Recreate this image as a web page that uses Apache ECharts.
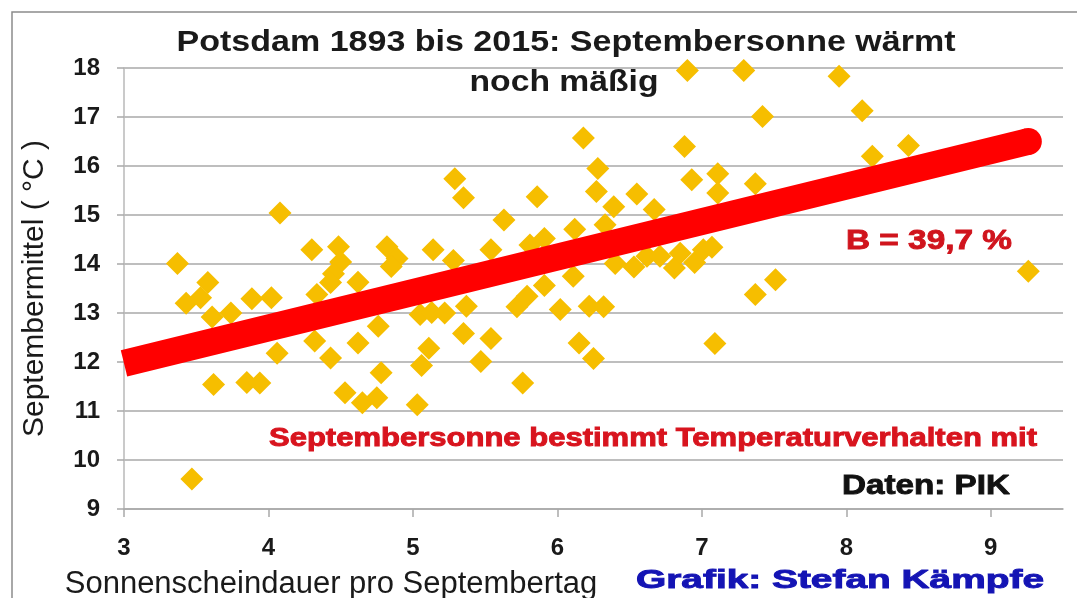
<!DOCTYPE html>
<html>
<head>
<meta charset="utf-8">
<title>Potsdam Septembersonne</title>
<script src="https://cdn.jsdelivr.net/npm/echarts@6/dist/echarts.min.js"></script>
<style>
html, body { margin: 0; padding: 0; background: #fff; }
#main { width: 1077px; height: 598px; }
</style>
</head>
<body>
<div id="main"></div>
<script>
// Sonnenscheindauer pro Septembertag (h) und Septembermittel (°C)
var sunHours = [3.37, 3.43, 3.53, 3.58, 3.61, 3.74, 3.885, 4.02, 3.47, 3.62,
    3.85, 3.94, 4.08, 4.06, 4.30, 4.485, 4.50, 4.45, 4.43, 4.335,
    4.62, 4.32, 4.43, 4.62, 4.76, 4.78, 4.53, 4.65, 4.75, 4.82,
    4.89, 4.85, 5.03, 5.06, 5.11, 5.05, 5.13, 5.22, 5.37, 5.35,
    5.54, 5.47, 5.76, 5.14, 5.28, 5.29, 5.35, 5.54, 5.63, 5.86,
    5.81, 5.91, 6.12, 6.33, 6.11, 5.72, 5.79, 5.91, 6.02, 6.22,
    6.32, 6.15, 6.25, 6.18, 6.28, 6.27, 6.39, 6.55, 6.67, 6.90,
    7.29, 7.95, 7.42, 8.11, 6.88, 8.43, 8.18, 6.93, 7.11, 7.11,
    7.37, 9.26, 7.51, 7.37, 7.09, 6.40, 6.53, 6.62, 6.71, 6.81,
    6.95, 7.01, 7.07, 6.85]
var meanTemp = [14.01, 13.20, 13.31, 13.62, 12.92, 13.00, 13.29, 13.31, 9.61, 11.54,
    11.58, 11.57, 15.04, 12.18, 14.29, 14.35, 14.04, 13.80, 13.62, 13.38,
    13.63, 12.43, 12.08, 12.39, 12.73, 11.78, 11.37, 11.17, 11.27, 14.35,
    14.11, 13.95, 11.13, 11.93, 12.28, 12.97, 13.01, 13.00, 13.14, 12.58,
    12.48, 12.01, 11.57, 14.29, 14.07, 15.74, 15.35, 14.29, 14.90, 15.37,
    14.39, 14.52, 14.71, 14.80, 13.75, 13.13, 13.34, 13.56, 13.07, 13.14,
    13.13, 12.39, 12.07, 16.57, 15.95, 15.48, 15.17, 15.43, 15.11, 17.95,
    17.95, 17.83, 17.01, 17.13, 16.40, 16.42, 16.20, 15.72, 15.84, 15.45,
    15.64, 13.85, 13.68, 13.38, 12.38, 14.01, 13.94, 14.16, 14.16, 13.92,
    14.03, 14.29, 14.34, 14.22]
// Regressionsgerade: Anfang und Ende
var trendHours = [3, 9.26]
var trendTemp = [11.97, 16.5]
var xTicks = [3, 4, 5, 6, 7, 8, 9]
var yTicks = [9, 10, 11, 12, 13, 14, 15, 16, 17, 18]

var FONT = '"Liberation Sans", Arial, sans-serif'
var GRID = '#a9a9a9'
var TREND_W = 27
var ctx = document.createElement('canvas').getContext('2d')

// Text in der Breite an das Original anpassen (Original ist horizontal gestreckt)
function stretch(text, size, width) {
    ctx.font = 'bold ' + size + 'px "Liberation Sans"'
    return width / ctx.measureText(text).width
}
function note(text, x, y, size, width, color, align, heavy) {
    return {
        type: 'text',
        x: x,
        y: y,
        scaleX: stretch(text, size, width),
        z: 100,
        style: {
            text: text,
            fontSize: size,
            fontWeight: 'bold',
            fontFamily: FONT,
            fill: color,
            align: align,
            verticalAlign: 'middle',
            stroke: heavy ? color : null,
            lineWidth: heavy ? 0.9 : 0
        }
    }
}

var points = sunHours.map(function (h, i) { return [h, meanTemp[i]] })
// links flach an der Achse, rechts runder Abschluss
var trend = trendHours.map(function (h, i) {
    var last = i === trendHours.length - 1
    return {
        value: [h, trendTemp[i]],
        symbol: last ? 'circle' : 'none',
        symbolSize: TREND_W
    }
})

var myChart = echarts.init(document.getElementById('main'))
var option = {
    animation: false,
    backgroundColor: '#fff',
    grid: { left: 124, right: 14, top: 68, bottom: 89, outerBoundsMode: 'none' },
    xAxis: {
        type: 'value',
        min: 3,
        max: 9.5,
        interval: 1,
        name: 'Sonnenscheindauer pro Septembertag',
        nameLocation: 'middle',
        nameGap: 60,
        nameTextStyle: { fontSize: 31, color: '#1a1a1a', fontFamily: FONT, padding: [0, 525, 0, 0] },
        axisLine: { show: true, lineStyle: { color: GRID, width: 1.5 } },
        axisTick: { show: true, length: 8, customValues: xTicks, lineStyle: { color: GRID, width: 1.5 } },
        axisLabel: {
            customValues: xTicks,
            margin: 27,
            fontSize: 24,
            fontWeight: 'bold',
            color: '#1a1a1a',
            fontFamily: FONT
        },
        splitLine: { show: false }
    },
    yAxis: {
        type: 'value',
        min: 9,
        max: 18,
        interval: 1,
        name: 'Septembermittel ( °C )',
        nameLocation: 'middle',
        nameRotate: 90,
        nameGap: 74,
        nameTextStyle: { fontSize: 30, color: '#1a1a1a', fontFamily: FONT },
        axisLine: { show: true, lineStyle: { color: '#b8b8b8', width: 1.5 } },
        axisTick: { show: true, length: 7, customValues: yTicks, lineStyle: { color: GRID, width: 1.5 } },
        axisLabel: {
            customValues: yTicks,
            margin: 24,
            fontSize: 24,
            fontWeight: 'bold',
            color: '#1a1a1a',
            fontFamily: FONT
        },
        splitLine: { show: true, lineStyle: { color: GRID, width: 1.5 } }
    },
    series: [
        {
            name: 'Septemberjahre',
            type: 'scatter',
            symbol: 'diamond',
            symbolSize: 23,
            itemStyle: { color: '#f6be00', opacity: 1 },
            data: points,
            z: 2
        },
        {
            name: 'Trend',
            type: 'line',
            showSymbol: true,
            clip: true,
            itemStyle: { color: '#ff0000', borderWidth: 0 },
            lineStyle: { width: TREND_W, color: '#ff0000', cap: 'butt' },
            data: trend,
            z: 3
        }
    ],
    graphic: [
        {
            type: 'rect',
            shape: { x: 12, y: 12, width: 1100, height: 700 },
            style: { fill: null, stroke: '#8c8c8c', lineWidth: 1.5 },
            z: 100
        },
        note('Potsdam 1893 bis 2015: Septembersonne wärmt', 566, 42.5, 30, 779, '#1a1a1a', 'center', false),
        note('noch mäßig', 564, 82.6, 30, 189, '#1a1a1a', 'center', false),
        note('B = 39,7 %', 846, 241.7, 28, 166, '#d0141d', 'left', true),
        note('Septembersonne bestimmt Temperaturverhalten mit', 269, 439, 25, 768, '#d8141e', 'left', true),
        note('Daten: PIK', 842, 486.7, 28, 168, '#111111', 'left', true),
        note('Grafik: Stefan Kämpfe', 636, 581, 26, 408, '#1414b4', 'left', true)
    ]
}
myChart.setOption(option)
</script>
</body>
</html>
